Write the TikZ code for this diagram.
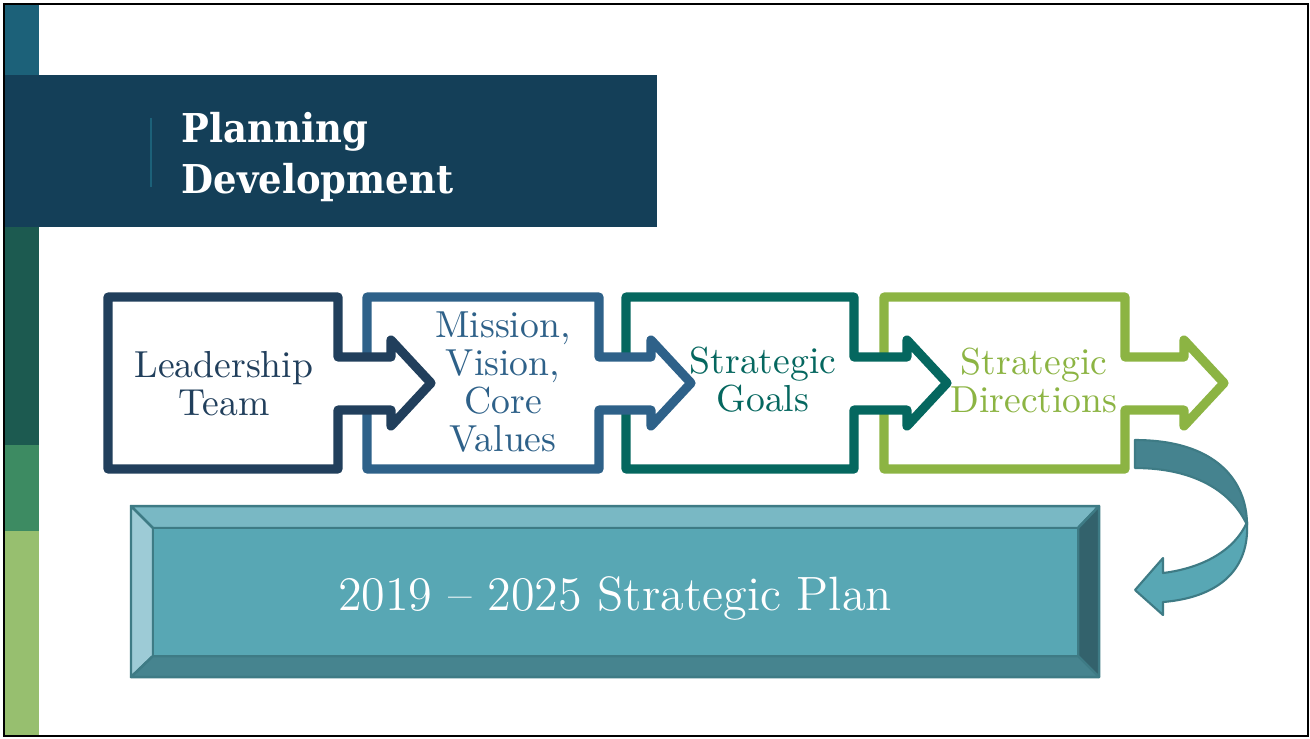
\documentclass[tikz,border=0pt]{standalone}
\usepackage{fontspec}
\newfontfamily\slabfont{DejaVu Serif}[FakeStretch=0.93]
\usepackage{tikz}

\definecolor{navy}{HTML}{213F5C}
\definecolor{steel}{HTML}{2E6189}
\definecolor{pine}{HTML}{05675F}
\definecolor{leaf}{HTML}{8CB443}
\definecolor{banner}{HTML}{143F58}
\definecolor{stripeA}{HTML}{1C6179}
\definecolor{stripeB}{HTML}{1C5A50}
\definecolor{stripeC}{HTML}{3D8B62}
\definecolor{stripeD}{HTML}{97BF6F}
\definecolor{tealmid}{HTML}{58A7B4}
\definecolor{tealtop}{HTML}{79B8C4}
\definecolor{tealleft}{HTML}{9DCBD6}
\definecolor{tealright}{HTML}{33626C}
\definecolor{tealbot}{HTML}{46848F}
\definecolor{tealedge}{HTML}{3E7B85}
\definecolor{tealdark}{HTML}{45838F}

\begin{document}
\begin{tikzpicture}[
  x=0.01cm, y=-0.01cm,
  chev/.style={line width=2.6pt, line join=round, fill=white},
  lbl/.style={align=center, inner sep=0pt, font=\fontsize{10.7}{10.8}\selectfont},
  ttl/.style={align=left, inner sep=0pt, text=white,
              font=\slabfont\bfseries\fontsize{11.3}{14.5}\selectfont},
  bevel/.style={draw=tealedge, line width=0.7pt, line join=round},
  ribbon/.style={draw=tealedge, line width=0.6pt, line join=round}
]
\useasboundingbox (0,0) rectangle (1310,738);
\fill[white] (0,0) rectangle (1310,738);

\foreach \a/\b/\c in {5/75/stripeA, 227/445/stripeB, 445/531/stripeC, 531/736/stripeD}
  \fill[\c] (5,\a) rectangle (39,\b);

\fill[banner] (5,75) rectangle (657,227);
\draw[stripeA, line width=0.45pt] (151,118) -- (151,187);
\node[ttl, anchor=north west] (title) at (181,112) {Planning\\Development};

\foreach \l/\r/\tip/\col in {884/1125/59/leaf, 626/854/53/pine, 367/599/52/steel, 108/338/53/navy}
  \draw[chev, draw=\col] (\l,297) -- (\r,297) -- (\r,357) -- (\r+\tip,357) -- (\r+\tip,340)
    -- (\r+\tip+40,383) -- (\r+\tip,426) -- (\r+\tip,410) -- (\r,410) -- (\r,469) -- (\l,469) -- cycle;

\node[lbl, text=navy]  (s1) at (224,384) {Leadership\\Team};
\node[lbl, text=steel] (s2) at (503,382) {Mission,\\Vision,\\Core\\Values};
\node[lbl, text=pine]  (s3) at (763,380) {Strategic\\Goals};
\node[lbl, text=leaf]  (s4) at (1034,380) {Strategic\\Directions};

\filldraw[bevel, fill=tealtop]   (131,506) -- (1099,506) -- (1078,528) -- (153,528) -- cycle;
\filldraw[bevel, fill=tealleft]  (131,506) -- (153,528) -- (153,656) -- (131,677) -- cycle;
\filldraw[bevel, fill=tealright] (1099,506) -- (1099,677) -- (1078,656) -- (1078,528) -- cycle;
\filldraw[bevel, fill=tealbot]   (131,677) -- (153,656) -- (1078,656) -- (1099,677) -- cycle;
\filldraw[bevel, fill=tealmid]   (153,528) rectangle (1078,656);
\node[text=white, inner sep=0pt, anchor=base, font=\fontsize{13.7}{16}\selectfont]
  (plan) at (615,610) {2019 -- 2025 Strategic Plan};

\filldraw[ribbon, fill=tealdark] (1135,440) .. controls (1215,440) and (1247,480) .. (1247,525)
  .. controls (1232,492) and (1195,468) .. (1135,468) -- cycle;
\filldraw[ribbon, fill=tealmid] (1247,522) .. controls (1250,575) and (1212,598) .. (1163,602)
  -- (1163,615) -- (1135,590) -- (1163,558) -- (1163,573)
  .. controls (1203,568) and (1235,550) .. (1247,522) -- cycle;

\draw[black, line width=0.6pt] (4,4) rectangle (1308,736);
\end{tikzpicture}
\end{document}
